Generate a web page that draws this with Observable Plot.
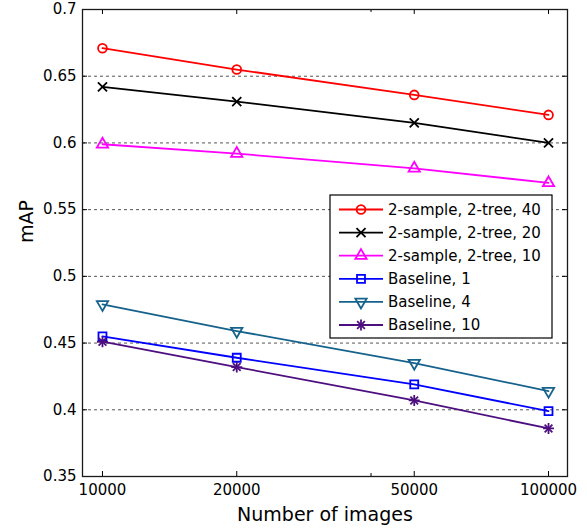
<!DOCTYPE html>
<html>
<head>
<meta charset="utf-8">
<script src="https://cdn.jsdelivr.net/npm/d3@7"></script>
<script src="https://cdn.jsdelivr.net/npm/@observablehq/plot@0.6"></script>
<style>
  html, body { margin: 0; padding: 0; background: #fff; }
  #chart svg { display: block; }
</style>
</head>
<body>
<div id="chart"></div>
<script>
// ---- data ----
const images = [10000, 20000, 50000, 100000];
const red40 = [0.671, 0.655, 0.636, 0.621];
const black20 = [0.642, 0.631, 0.615, 0.600];
const magenta10 = [0.599, 0.592, 0.581, 0.570];
const base1 = [0.455, 0.439, 0.419, 0.399];
const base4 = [0.479, 0.459, 0.435, 0.414];
const base10 = [0.451, 0.432, 0.407, 0.386];

const seriesNames = ["2-sample, 2-tree, 40", "2-sample, 2-tree, 20", "2-sample, 2-tree, 10", "Baseline, 1", "Baseline, 4", "Baseline, 10"];
const seriesValues = [red40, black20, magenta10, base1, base4, base10];
const seriesColors = ["#ff0000", "#000000", "#ff00ff", "#0000ff", "#15628c", "#4d0f80"];
const seriesSymbols = [["circle"], ["times"], ["triangle"], ["square"], ["triangle-down"], ["plus", "times"]];
const seriesR = [4.4, 4.2, 4.2, 4.5, 4.2, 3.6];

const xTicks = [10000, 20000, 50000, 100000];
const xMinorTicks = [40000];
const yTicks = [0.35, 0.4, 0.45, 0.5, 0.55, 0.6, 0.65, 0.7];
const yGrid = [0.4, 0.45, 0.5, 0.55, 0.6, 0.65];
const xLabel = "Number of images";
const yLabel = "mAP";

// ---- layout ----
const W = 587, H = 529;
const mL = 82, mR = 20, mT = 9, mB = 53;
const frameW = W - mL - mR, frameH = H - mT - mB;
const font = "DejaVu Sans, Liberation Sans, sans-serif";

const rows = [];
seriesValues.forEach((vals, i) => {
  vals.forEach((v, j) => rows.push({series: seriesNames[i], idx: i, x: images[j], y: v}));
});

const marks = [];
// grid
marks.push(Plot.gridY(yGrid, {stroke: "#555", strokeOpacity: 1, strokeWidth: 1, strokeDasharray: "3,3"}));
// lines
seriesNames.forEach((name, i) => {
  const d = rows.filter(r => r.idx === i);
  marks.push(Plot.line(d, {x: "x", y: "y", stroke: seriesColors[i], strokeWidth: 1.8}));
});
// markers
seriesNames.forEach((name, i) => {
  const d = rows.filter(r => r.idx === i);
  seriesSymbols[i].forEach(sym => {
    if (sym === "triangle-down") {
      marks.push(Plot.dot(d, {x: "x", y: "y", symbol: "triangle", rotate: 180, r: seriesR[i], stroke: seriesColors[i], fill: "none", strokeWidth: 1.8}));
    } else {
      marks.push(Plot.dot(d, {x: "x", y: "y", symbol: sym, r: seriesR[i], stroke: seriesColors[i], fill: "none", strokeWidth: 1.8}));
    }
  });
});
// inward ticks
marks.push(Plot.tickX(xTicks, {x: d => d, insetTop: frameH - 5, stroke: "#000", strokeWidth: 1}));
marks.push(Plot.tickX(xTicks, {x: d => d, insetBottom: frameH - 5, stroke: "#000", strokeWidth: 1}));
marks.push(Plot.tickX(xMinorTicks, {x: d => d, insetTop: frameH - 3, stroke: "#000", strokeWidth: 1}));
marks.push(Plot.tickX(xMinorTicks, {x: d => d, insetBottom: frameH - 3, stroke: "#000", strokeWidth: 1}));
marks.push(Plot.tickY(yTicks, {y: d => d, insetRight: frameW - 5, stroke: "#000", strokeWidth: 1}));
marks.push(Plot.tickY(yTicks, {y: d => d, insetLeft: frameW - 5, stroke: "#000", strokeWidth: 1}));
// frame
marks.push(Plot.frame({stroke: "#1a1a1a", strokeWidth: 1.3}));
// axes text
marks.push(Plot.axisX({ticks: xTicks, tickSize: 0, tickPadding: 8, tickFormat: d => String(d), label: null, fontSize: 15, fill: "#000"}));
marks.push(Plot.axisY({ticks: yTicks, tickSize: 0, tickPadding: 6, tickFormat: d => String(d), label: null, fontSize: 15, fill: "#000"}));
// axis labels
marks.push(Plot.text([xLabel], {frameAnchor: "bottom", dy: 31, lineAnchor: "top", fontSize: 19, fill: "#000"}));
marks.push(Plot.text([yLabel], {frameAnchor: "left", dx: -56, rotate: -90, fontSize: 19, fill: "#000"}));

const chart = Plot.plot({
  width: W, height: H,
  marginLeft: mL, marginRight: mR, marginTop: mT, marginBottom: mB,
  style: {fontFamily: font, fontSize: "15px", color: "#000", background: "#fff"},
  x: {type: "log", domain: [9020, 110300], axis: null},
  y: {domain: [0.35, 0.7], axis: null},
  marks
});
document.getElementById("chart").appendChild(chart);

// ---- legend (inside the plot) ----
const svg = d3.select(chart);
const lg = svg.append("g").attr("font-family", font).attr("font-size", 15).attr("text-anchor", "start");
const bx = 330, by = 195, bw = 222, bh = 143;
lg.append("rect").attr("x", bx).attr("y", by).attr("width", bw).attr("height", bh)
  .attr("fill", "#fff").attr("stroke", "#000").attr("stroke-width", 1.2);
const symMap = {circle: d3.symbolCircle, times: d3.symbolTimes, plus: d3.symbolPlus, triangle: d3.symbolTriangle, square: d3.symbolSquare, "triangle-down": d3.symbolTriangle};
seriesNames.forEach((name, i) => {
  const cy = 209.5 + i * 23.1;
  lg.append("line").attr("x1", 339).attr("x2", 383).attr("y1", cy).attr("y2", cy)
    .attr("stroke", seriesColors[i]).attr("stroke-width", 1.8);
  seriesSymbols[i].forEach(sym => {
    const r = seriesR[i];
    lg.append("path")
      .attr("d", d3.symbol(symMap[sym], Math.PI * r * r)())
      .attr("transform", `translate(361,${cy})` + (sym === "triangle-down" ? " rotate(180)" : ""))
      .attr("fill", "none").attr("stroke", seriesColors[i]).attr("stroke-width", 1.8);
  });
  lg.append("text").attr("x", 388).attr("y", cy).attr("dy", "0.36em").attr("text-anchor", "start").attr("fill", "#000").text(name);
});
</script>
</body>
</html>
